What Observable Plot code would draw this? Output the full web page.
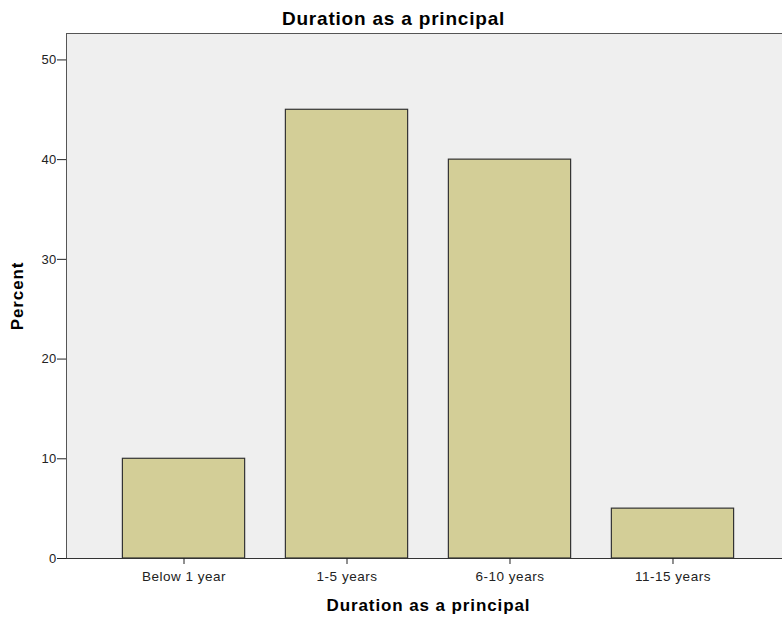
<!DOCTYPE html>
<html><head><meta charset="utf-8">
<script src="https://cdn.jsdelivr.net/npm/d3@7"></script>
<script src="https://cdn.jsdelivr.net/npm/@observablehq/plot@0.6"></script>
<style>
body{margin:0;background:#fff;overflow:hidden;}
g[aria-label="y-axis label"] text, g[aria-label="x-axis label"] text {font-weight:bold;font-size:17px;fill:#000;letter-spacing:0.9px;}
g[aria-label="x-axis tick label"] text {font-size:13.5px;letter-spacing:0.5px;}
g[aria-label="y-axis tick label"] text {font-size:13px;letter-spacing:0.3px;}
.title text {letter-spacing:0.8px;}
</style></head><body><div id="chart"></div>
<script>
const categories = ["Below 1 year", "1-5 years", "6-10 years", "11-15 years"];
const percents = [10, 45, 40, 5];
const yTicks = [0, 10, 20, 30, 40, 50];
const titleText = "Duration as a principal";
const xLabel = "Duration as a principal";
const yLabel = "Percent";

const data = categories.map((c, i) => ({category: c, percent: percents[i]}));

const chart = Plot.plot({
  width: 782,
  height: 620,
  marginTop: 33,
  marginBottom: 62,
  marginLeft: 66,
  marginRight: -8,
  style: {fontFamily: "'Liberation Sans', Arial, sans-serif", fontSize: "12px", background: "#fff", color: "#222", overflow: "hidden"},
  x: {domain: categories, paddingInner: 0.25, paddingOuter: 0.346, round: false, label: null},
  y: {domain: [0, 52.65], label: null},
  marks: [
    Plot.frame({fill: "#efefef", stroke: "#555"}),
    Plot.barY(data, {x: "category", y: "percent", fill: "#d3ce97", stroke: "#333", strokeWidth: 1.2}),
    Plot.ruleY([0], {stroke: "#333", strokeWidth: 1.2}),
    Plot.axisY({ticks: yTicks, tickSize: 9, tickPadding: 1, label: yLabel, labelAnchor: "center", labelOffset: 56, labelArrow: false, stroke: "#222"}),
    Plot.axisX({tickSize: 6, tickPadding: 7, label: xLabel, labelAnchor: "center", labelOffset: 52, labelArrow: false, stroke: "#222"}),
    Plot.text([titleText], {frameAnchor: "top", lineAnchor: "middle", dx: -35, dy: -15, fontSize: 19, fontWeight: "bold", fill: "#000", className: "title"})
  ]
});
document.getElementById("chart").append(chart);
</script>
</body></html>
